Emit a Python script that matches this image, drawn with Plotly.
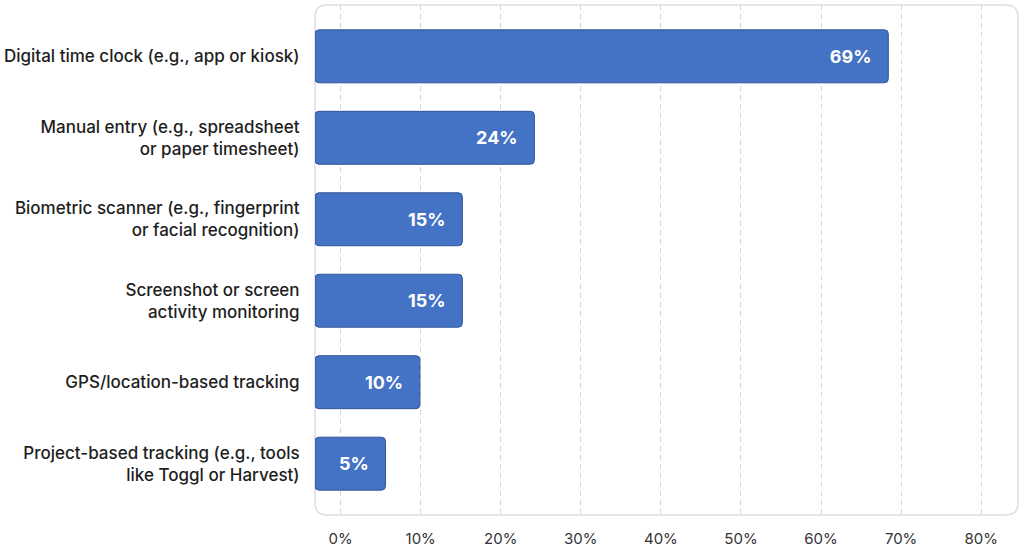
import plotly.graph_objects as go

categories = [
    "Digital time clock (e.g., app or kiosk)",
    "Manual entry (e.g., spreadsheet<br>or paper timesheet)",
    "Biometric scanner (e.g., fingerprint<br>or facial recognition)",
    "Screenshot or screen<br>activity monitoring",
    "GPS/location-based tracking",
    "Project-based tracking (e.g., tools<br>like Toggl or Harvest)",
]
shares = [69, 24, 15, 15, 10, 5]
bar_ends = [68.4, 24.2, 15.2, 15.2, 9.9, 5.6]
tick_vals = [0, 10, 20, 30, 40, 50, 60, 70, 80]
tick_text = ["0%", "10%", "20%", "30%", "40%", "50%", "60%", "70%", "80%"]

x_min, x_max = -3.2, 84.6
W, H = 1024, 548
ml, mr, mt, mb = 315, 6, 5, 33

fig = go.Figure(go.Bar(
    y=categories,
    x=[v - x_min for v in bar_ends],
    base=x_min,
    orientation="h",
    width=0.65,
    marker=dict(color="#4472c4", line=dict(color="#2f5597", width=1), cornerradius=4),
    text=[f"{s}%   " for s in shares],
    textposition="inside",
    insidetextanchor="end",
    textfont=dict(color="white", size=18, family="Inter", weight=700),
    hoverinfo="skip",
))

# rounded plot frame
pw, ph = W - ml - mr, H - mt - mb
rx, ry = 12 / pw, 12 / ph
frame = (f"M {rx},0 L {1 - rx},0 Q 1,0 1,{ry} L 1,{1 - ry} Q 1,1 {1 - rx},1 "
         f"L {rx},1 Q 0,1 0,{1 - ry} L 0,{ry} Q 0,0 {rx},0 Z")
fig.add_shape(type="path", path=frame, xref="x domain", yref="y domain",
              line=dict(color="#dedede", width=1.5), layer="below")

fig.update_layout(
    width=W, height=H,
    margin=dict(l=ml, r=mr, t=mt, b=mb),
    plot_bgcolor="white", paper_bgcolor="white",
    showlegend=False,
    font=dict(family="Inter", color="#1e1e1e"),
    xaxis=dict(
        range=[x_min, x_max], tickvals=tick_vals, ticktext=tick_text,
        showgrid=True, gridcolor="#d6d6d6", griddash="5px,4px", gridwidth=1,
        zeroline=False, showline=False, automargin=False,
        ticks="outside", ticklen=10, tickcolor="rgba(0,0,0,0)",
        tickfont=dict(size=15, color="#333333"),
    ),
    yaxis=dict(
        autorange=False, range=[5.63, -0.63],
        showgrid=False, zeroline=False, showline=False, automargin=False,
        ticks="outside", ticklen=11, tickcolor="rgba(0,0,0,0)",
        tickfont=dict(size=17, color="#1e1e1e", weight=500),
    ),
)

fig.write_html("out.html", config={"displayModeBar": False},
               post_script="document.body.style.margin='0';")
